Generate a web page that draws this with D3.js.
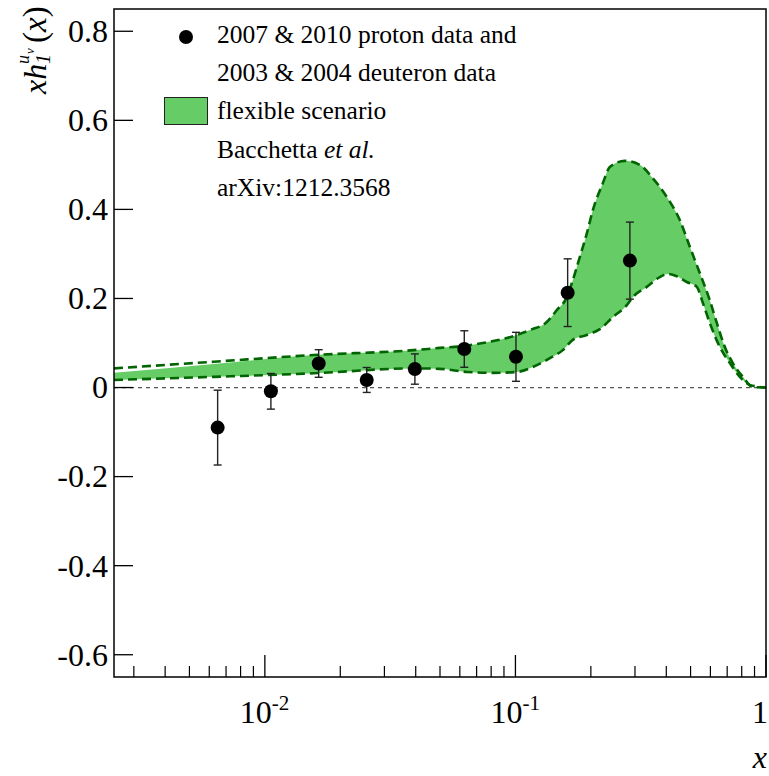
<!DOCTYPE html>
<html>
<head>
<meta charset="utf-8">
<script src="https://cdn.jsdelivr.net/npm/d3@7"></script>
<style>
  body { margin: 0; background: #fff; }
  svg { display: block; }
  text { font-family: "Liberation Serif", "Times New Roman", serif; fill: #000; }
</style>
</head>
<body>
<svg id="chart" width="769" height="776" font-family="Liberation Serif, serif"></svg>
<script>
// data points (x, value, stat. error)
const pointX   = [0.00648, 0.01057, 0.0164, 0.0255, 0.0397, 0.0625, 0.1005, 0.1616, 0.2863];
const pointY   = [-0.090, -0.0085, 0.054, 0.017, 0.0415, 0.0865, 0.069, 0.213, 0.285];
const pointErr = [0.084, 0.040, 0.031, 0.028, 0.034, 0.041, 0.055, 0.076, 0.0865];

// upper edge of the band (dashed)
const upperX = [0.0025, 0.00626, 0.01568, 0.0393, 0.0499, 0.0617, 0.0741, 0.0924, 0.1142, 0.1334, 0.1463,
  0.1604, 0.1694, 0.1807, 0.1927, 0.2036, 0.2233, 0.2380, 0.2733, 0.3135, 0.3534, 0.4019, 0.4529, 0.4966,
  0.5442, 0.5966, 0.6364, 0.6850, 0.7371, 0.8082, 0.8858, 1.0];
const upperY = [0.043, 0.058, 0.073, 0.084, 0.089, 0.093, 0.100, 0.111, 0.129, 0.147, 0.174,
  0.203, 0.241, 0.293, 0.346, 0.398, 0.459, 0.495, 0.509, 0.500, 0.470, 0.428, 0.376, 0.316,
  0.257, 0.196, 0.145, 0.091, 0.055, 0.024, 0.001, 0.0];

// top of the green fill at low x (it sits below the dashed line there)
const fillTopX = [0.0025, 0.00626];
const fillTopY = [0.033, 0.053];

// lower edge of the band (dashed)
const lowerX = [0.0025, 0.00626, 0.01568, 0.0393, 0.0499, 0.0640, 0.0812, 0.1013, 0.1173, 0.1372, 0.1546,
  0.1694, 0.1927, 0.2172, 0.2446, 0.2783, 0.2941, 0.3344, 0.3769, 0.4056, 0.4406, 0.4830, 0.5295, 0.5597,
  0.5966, 0.6541, 0.7172, 0.7861, 0.8619, 1.0];
const lowerY = [0.017, 0.024, 0.032, 0.043, 0.042, 0.035, 0.033, 0.035, 0.046, 0.066, 0.084,
  0.107, 0.118, 0.131, 0.158, 0.185, 0.203, 0.226, 0.248, 0.255, 0.250, 0.237, 0.226, 0.190,
  0.145, 0.091, 0.055, 0.024, 0.006, 0.0];

const yTicks = [-0.6, -0.4, -0.2, 0, 0.2, 0.4, 0.6, 0.8];
const yTickLabels = ["-0.6", "-0.4", "-0.2", "0", "0.2", "0.4", "0.6", "0.8"];
const xMajor = [0.01, 0.1, 1];
const xMajorLabels = [["10", "-2"], ["10", "-1"], ["1", ""]];

const frameL = 114, frameR = 766, frameT = 9, frameB = 677;

const svg = d3.select("#chart");

const x = d3.scaleLog().domain([0.0025, 1]).range([frameL, frameR]);
const y = d3.scaleLinear().domain([-0.65, 0.85]).range([frameB, frameT]);

const upper = upperX.map((v, i) => [v, upperY[i]]);
const lower = lowerX.map((v, i) => [v, lowerY[i]]);
const fillTop = fillTopX.map((v, i) => [v, fillTopY[i]]).concat(upper.slice(2));

const line = d3.line()
    .x(d => x(d[0]))
    .y(d => y(d[1]))
    .curve(d3.curveMonotoneX);

// clip: everything above the lower curve
svg.append("clipPath").attr("id", "aboveLower")
  .append("path")
    .attr("d", line(lower) + `L${frameR},${frameT}L${frameL},${frameT}Z`);

svg.append("clipPath").attr("id", "frame")
  .append("rect")
    .attr("x", frameL).attr("y", frameT)
    .attr("width", frameR - frameL).attr("height", frameB - frameT);

const plot = svg.append("g").attr("clip-path", "url(#frame)");

plot.append("path")
    .attr("d", line(fillTop) + `L${frameR},${frameB}L${frameL},${frameB}Z`)
    .attr("fill", "#66cc66")
    .attr("clip-path", "url(#aboveLower)");

// zero line
plot.append("line")
    .attr("x1", frameL).attr("x2", frameR)
    .attr("y1", y(0)).attr("y2", y(0))
    .attr("stroke", "#555")
    .attr("stroke-width", 1.2)
    .attr("stroke-dasharray", "4,4");

plot.selectAll("path.edge")
  .data([upper, lower])
  .enter().append("path")
    .attr("class", "edge")
    .attr("d", line)
    .attr("fill", "none")
    .attr("stroke", "#006400")
    .attr("stroke-width", 2.6)
    .attr("stroke-dasharray", "9,5");

// error bars and markers
const pts = pointX.map((v, i) => ({x: v, y: pointY[i], e: pointErr[i]}));

const bars = plot.append("g")
    .attr("stroke", "#222")
    .attr("stroke-width", 1.4);

bars.selectAll("line.err")
  .data(pts)
  .enter().append("line")
    .attr("class", "err")
    .attr("x1", d => x(d.x)).attr("x2", d => x(d.x))
    .attr("y1", d => y(d.y + d.e)).attr("y2", d => y(d.y - d.e));

bars.selectAll("line.capHi")
  .data(pts)
  .enter().append("line")
    .attr("class", "capHi")
    .attr("x1", d => x(d.x) - 4).attr("x2", d => x(d.x) + 4)
    .attr("y1", d => y(d.y + d.e)).attr("y2", d => y(d.y + d.e));

bars.selectAll("line.capLo")
  .data(pts)
  .enter().append("line")
    .attr("class", "capLo")
    .attr("x1", d => x(d.x) - 4).attr("x2", d => x(d.x) + 4)
    .attr("y1", d => y(d.y - d.e)).attr("y2", d => y(d.y - d.e));

plot.selectAll("circle")
  .data(pts)
  .enter().append("circle")
    .attr("cx", d => x(d.x))
    .attr("cy", d => y(d.y))
    .attr("r", 7)
    .attr("fill", "#000");

// frame
svg.append("rect")
    .attr("x", frameL).attr("y", frameT)
    .attr("width", frameR - frameL).attr("height", frameB - frameT)
    .attr("fill", "none")
    .attr("stroke", "#000")
    .attr("stroke-width", 1.5);

// y axis ticks + labels
svg.selectAll("line.ytick")
  .data(yTicks)
  .enter().append("line")
    .attr("class", "ytick")
    .attr("x1", frameL).attr("x2", frameL + 19)
    .attr("y1", d => y(d)).attr("y2", d => y(d))
    .attr("stroke", "#000").attr("stroke-width", 1.3);

svg.selectAll("text.ylab")
  .data(yTicks)
  .enter().append("text")
    .attr("class", "ylab")
    .attr("x", frameL - 6)
    .attr("y", d => y(d))
    .attr("dy", "0.34em")
    .attr("text-anchor", "end")
    .attr("font-size", 32)
    .text((d, i) => yTickLabels[i]);

// x axis ticks
const xMinor = [];
[0.001, 0.01, 0.1].forEach(dec => {
  for (let k = 2; k <= 9; k++) {
    const v = dec * k;
    if (v >= 0.0025 && v < 1) xMinor.push(v);
  }
});

svg.selectAll("line.xminor")
  .data(xMinor)
  .enter().append("line")
    .attr("class", "xminor")
    .attr("x1", d => x(d)).attr("x2", d => x(d))
    .attr("y1", frameB).attr("y2", frameB - 11)
    .attr("stroke", "#000").attr("stroke-width", 1.2);

svg.selectAll("line.xmajor")
  .data(xMajor)
  .enter().append("line")
    .attr("class", "xmajor")
    .attr("x1", d => x(d)).attr("x2", d => x(d))
    .attr("y1", frameB).attr("y2", frameB - 22)
    .attr("stroke", "#000").attr("stroke-width", 1.3);

const xl = svg.selectAll("text.xlab")
  .data(xMajor)
  .enter().append("text")
    .attr("class", "xlab")
    .attr("x", (d, i) => xMajorLabels[i][1] ? x(d) - 25 : 768)
    .attr("text-anchor", (d, i) => xMajorLabels[i][1] ? "start" : "end")
    .attr("y", 723)
    .attr("font-size", 32);
xl.append("tspan").text((d, i) => xMajorLabels[i][0]);
xl.append("tspan")
    .attr("font-size", 21)
    .attr("dy", -13)
    .text((d, i) => xMajorLabels[i][1]);

// x title
svg.append("text")
    .attr("x", 767).attr("y", 768)
    .attr("text-anchor", "end")
    .attr("font-size", 32)
    .attr("font-style", "italic")
    .text("x");

// y title: x h_1^{u_v}(x)
const yt = svg.append("g").attr("transform", "translate(46,94) rotate(-90)");
yt.append("text").attr("x", 0).attr("y", 0)
    .attr("font-size", 32).attr("font-style", "italic").text("xh");
yt.append("text").attr("x", 30).attr("y", 4)
    .attr("font-size", 20).attr("font-style", "italic").text("1");
yt.append("text").attr("x", 30).attr("y", -17)
    .attr("font-size", 18).attr("font-style", "italic").text("u");
yt.append("text").attr("x", 40).attr("y", -12)
    .attr("font-size", 13).attr("font-style", "italic").text("v");
const yp = yt.append("text").attr("x", 51).attr("y", 0).attr("font-size", 33);
yp.append("tspan").text("(");
yp.append("tspan").attr("font-style", "italic").text("x");
yp.append("tspan").text(")");

// legend
const legend = svg.append("g").attr("font-size", 25.5);
legend.append("circle").attr("cx", 186).attr("cy", 37).attr("r", 7).attr("fill", "#000");
legend.append("text").attr("x", 217).attr("y", 43).text("2007 & 2010 proton data and");
legend.append("text").attr("x", 217).attr("y", 81).text("2003 & 2004 deuteron data");
legend.append("rect")
    .attr("x", 164.5).attr("y", 97.5).attr("width", 43).attr("height", 27)
    .attr("fill", "#66cc66").attr("stroke", "#222").attr("stroke-width", 1);
legend.append("text").attr("x", 217).attr("y", 119).text("flexible scenario");
const bac = legend.append("text").attr("x", 217).attr("y", 158);
bac.append("tspan").text("Bacchetta ");
bac.append("tspan").attr("font-style", "italic").text("et al.");
legend.append("text").attr("x", 217).attr("y", 196).text("arXiv:1212.3568");
</script>
</body>
</html>
